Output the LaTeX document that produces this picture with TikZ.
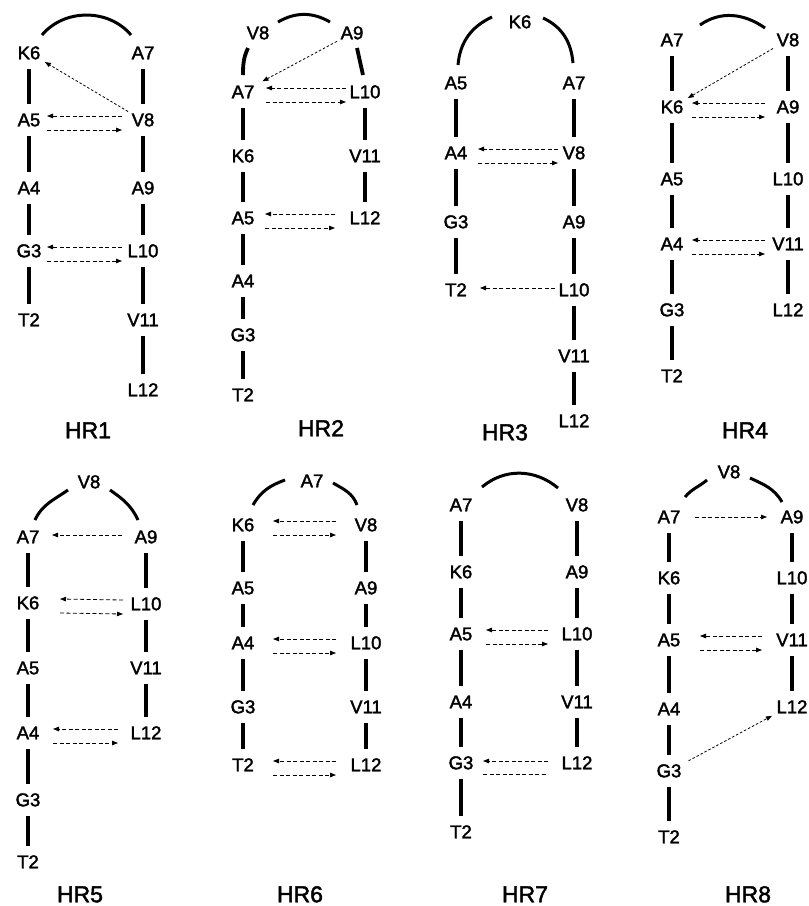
\documentclass[tikz,border=0pt]{standalone}
\usepackage{fontspec}
\setmainfont{Liberation Sans}
\newfontfamily\heavyfamily[FakeBold=2]{Liberation Sans}
\usetikzlibrary{arrows.meta,calc}
\newcommand{\resfont}{\heavyfamily\fontsize{18.5}{18.5}\selectfont}
\newcommand{\tagfont}{\heavyfamily\fontsize{23}{23}\selectfont}
\tikzset{
  res/.style={font=\resfont,inner sep=0pt,text height=12.5pt,text depth=0pt},
  tag/.style={font=\tagfont,inner sep=0pt,text height=16.5pt,text depth=0pt},
  bar/.style={line width=3.8pt,shorten <=10pt,shorten >=10pt},
  fold/.style={line width=3pt},
  hbond/.style={line width=0.8pt,dash pattern=on 4pt off 2.5pt,-{Triangle[length=6pt,width=4.5pt]}},
  hbdiag/.style={hbond,dash pattern=on 2.5pt off 2pt,shorten <=4pt,shorten >=5pt}
}
% panel, x, name/y list: residues of one strand and the bars between them
\newcommand{\strand}[3]{%
  \foreach \n/\y [count=\k, remember=\n as \prev (initially X)] in {#3}{
    \node[res] (#1\n) at (#2,-\y) {\n};
    \ifnum\k>1 \draw[bar] (#1\prev) -- (#1\n);\fi
  }
}
% left node, right node, left offset, right offset
\newcommand{\hbpair}[4]{%
  \draw[hbond] ([shift={(-#4,4)}]#2.center) -- ([shift={(#3,4)}]#1.center);
  \draw[hbond] ([shift={(#3,-10)}]#1.center) -- ([shift={(-#4,-10)}]#2.center);
}
\begin{document}
\begin{tikzpicture}[x=1pt,y=1pt]
  \useasboundingbox (0,0) rectangle (809,-906);
  % HR1
  \strand{p1}{29}{K6/53,A5/120,A4/188,G3/251,T2/320}
  \strand{p1}{143}{A7/53,V8/120,A9/188,L10/251,V11/320,L12/390}
  \draw[fold] ($(p1K6)+(13,18)$) to[out=50,in=130] ($(p1A7)+(-12,18)$);
  \draw[hbdiag] (p1V8.north west) -- (p1K6.south east);
  \hbpair{p1A5}{p1V8}{18}{21}
  \hbpair{p1G3}{p1L10}{18}{21}
  % HR2
  \node[res] (p2V8) at (258,-33) {V8};
  \node[res] (p2A9) at (352,-33) {A9};
  \strand{p2}{243}{A7/92,K6/156,A5/218,A4/281,G3/335,T2/395}
  \strand{p2}{365}{L10/92,V11/156,L12/218}
  \draw[fold] ($(p2V8)+(20,11)$) to[out=30,in=150] ($(p2A9)+(-22,11)$);
  \draw[bar,shorten <=0pt,shorten >=0pt] ($(p2V8)+(-10,-15)$) to[out=-115,in=90] ($(p2A7)+(0,17)$);
  \draw[bar,shorten <=0pt,shorten >=0pt] ($(p2A9)+(5,-15)$) -- ($(p2L10)+(-2,17)$);
  \draw[hbdiag,shorten >=9pt] (p2A9.south west) -- (p2A7.north east);
  \hbpair{p2A7}{p2L10}{23}{19}
  \hbpair{p2A5}{p2L12}{22}{30}
  % HR3
  \node[res] (p3K6) at (520,-22) {K6};
  \strand{p3}{456}{A5/83,A4/153,G3/222,T2/290}
  \strand{p3}{574}{A7/83,V8/153,A9/222,L10/290,V11/356,L12/421}
  \draw[fold] ($(p3A5)+(2,18)$) to[out=85,in=205] ($(p3K6)+(-28,5)$);
  \draw[fold] ($(p3K6)+(23,4)$) to[out=-25,in=95] ($(p3A7)+(-1,20)$);
  \hbpair{p3A4}{p3V8}{22}{16}
  \draw[hbond] ([shift={(-19,2)}]p3L10.center) -- ([shift={(24,2)}]p3T2.center);
  % HR4
  \strand{p4}{672}{A7/40,K6/107,A5/179,A4/244,G3/310,T2/376}
  \strand{p4}{788}{V8/40,A9/107,L10/179,V11/244,L12/310}
  \draw[fold] ($(p4A7)+(28,15)$) to[out=35,in=145] ($(p4V8)+(-23,12)$);
  \draw[hbdiag] (p4V8.south west) -- (p4K6.north east);
  \hbpair{p4K6}{p4A9}{20}{23}
  \hbpair{p4A4}{p4V11}{20}{23}
  % HR5
  \node[res] (p5V8) at (89,-482) {V8};
  \strand{p5}{28}{A7/537,K6/603,A5/668,A4/733,G3/800,T2/862}
  \strand{p5}{146}{A9/537,L10/604,V11/668,L12/733}
  \draw[fold] ($(p5A7)+(7,17)$) to[out=65,in=215] ($(p5V8)+(-21,-8)$);
  \draw[fold] ($(p5V8)+(21,-8)$) to[out=-35,in=115] ($(p5A9)+(-8,17)$);
  \draw[hbond] ([shift={(-24,2)}]p5A9.center) -- ([shift={(24,2)}]p5A7.center);
  \hbpair{p5K6}{p5L10}{32}{23}
  \hbpair{p5A4}{p5L12}{25}{28}
  % HR6
  \node[res] (p6A7) at (312,-481) {A7};
  \strand{p6}{243}{K6/525,A5/588,A4/643,G3/707,T2/765}
  \strand{p6}{366}{V8/525,A9/588,L10/643,V11/707,L12/765}
  \draw[fold] ($(p6K6)+(10,20)$) to[out=60,in=200] ($(p6A7)+(-27,1)$);
  \draw[fold] ($(p6A7)+(21,-2)$) to[out=-30,in=110] ($(p6V8)+(-9,20)$);
  \hbpair{p6K6}{p6V8}{30}{30}
  \hbpair{p6A4}{p6L10}{30}{30}
  \hbpair{p6T2}{p6L12}{30}{30}
  % HR7
  \strand{p7}{461}{A7/505,K6/572,A5/634,A4/702,G3/763,T2/832}
  \strand{p7}{577}{V8/505,A9/572,L10/634,V11/702,L12/763}
  \draw[fold] ($(p7A7)+(21,18)$) to[out=40,in=140] ($(p7V8)+(-19,17)$);
  \hbpair{p7A5}{p7L10}{25}{29}
  \draw[hbond] ([shift={(-29,2)}]p7L12.center) -- ([shift={(22,2)}]p7G3.center);
  \draw[hbond,-] ([shift={(22,-11)}]p7G3.center) -- ([shift={(-29,-11)}]p7L12.center);
  % HR8
  \node[res] (p8V8) at (729,-472) {V8};
  \strand{p8}{669}{A7/517,K6/578,A5/640,A4/709,G3/771,T2/837}
  \strand{p8}{792}{A9/517,L10/578,V11/640,L12/707}
  \draw[fold] ($(p8A7)+(16,20)$) to[out=50,in=220] ($(p8V8)+(-22,-8)$);
  \draw[fold] ($(p8V8)+(21,-6)$) to[out=-25,in=120] ($(p8A9)+(-10,15)$);
  \draw[hbond] ([shift={(26,0)}]p8A7.center) -- ([shift={(-25,0)}]p8A9.center);
  \hbpair{p8A5}{p8V11}{31}{30}
  \draw[hbdiag,shorten <=8pt] (p8G3.north east) -- (p8L12.south west);
  % labels
  \foreach \k/\x/\y in {1/88/430,2/321/428,3/505/432,4/745/430,5/80/894,6/300/894,7/525/894,8/748/894}
    \node[tag] (tag\k) at (\x,-\y) {HR\k};
\end{tikzpicture}
\end{document}
